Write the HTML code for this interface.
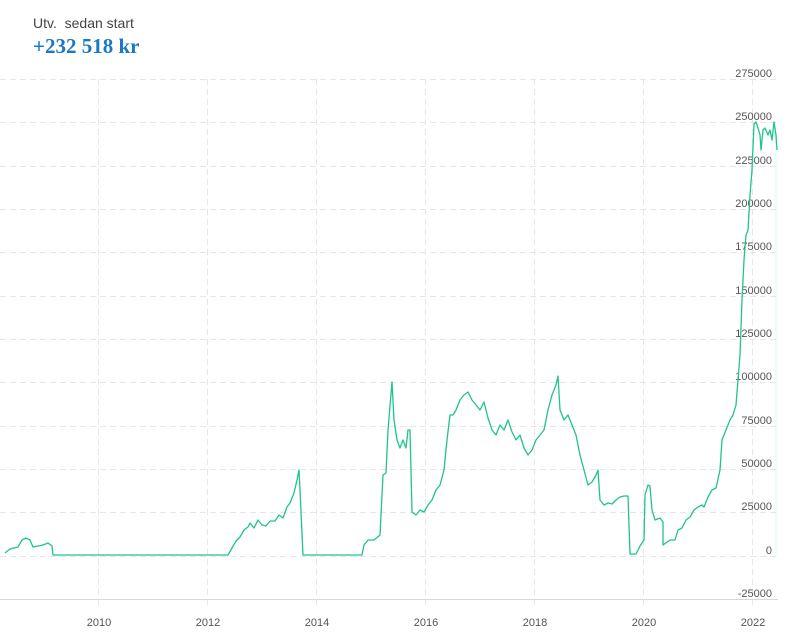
<!DOCTYPE html>
<html><head><meta charset="utf-8"><style>
body{margin:0;background:#fff;width:787px;height:637px;overflow:hidden;font-family:"Liberation Sans",sans-serif}
.t1{position:absolute;left:33px;top:15px;font-size:14px;color:#444}
.t2{position:absolute;left:33px;top:34px;font-size:21px;font-weight:bold;color:#1a78c9;font-family:"Liberation Serif",serif}
svg{position:absolute;left:0;top:0}
</style></head><body>
<div class="t1">Utv.&nbsp; sedan start</div>
<div class="t2">+232 518 kr</div>
<svg width="787" height="637" font-family="Liberation Sans, sans-serif" font-size="11" fill="#555">
<defs><linearGradient id="g" x1="0" x2="1" y1="0" y2="0">
<stop offset="0" stop-color="#2ecc91" stop-opacity="0"/><stop offset="0.93" stop-color="#2ecc91" stop-opacity="0"/><stop offset="0.95" stop-color="#2ecc91" stop-opacity="0.08"/><stop offset="1" stop-color="#2ecc91" stop-opacity="0.08"/></linearGradient></defs>
<g stroke="#e6e6e6" stroke-dasharray="6,4" stroke-width="1">
<line x1="0" x2="778" y1="79.5" y2="79.5"/><line x1="0" x2="778" y1="122.5" y2="122.5"/><line x1="0" x2="778" y1="166.5" y2="166.5"/><line x1="0" x2="778" y1="209.5" y2="209.5"/><line x1="0" x2="778" y1="252.5" y2="252.5"/><line x1="0" x2="778" y1="296.5" y2="296.5"/><line x1="0" x2="778" y1="339.5" y2="339.5"/><line x1="0" x2="778" y1="382.5" y2="382.5"/><line x1="0" x2="778" y1="426.5" y2="426.5"/><line x1="0" x2="778" y1="469.5" y2="469.5"/><line x1="0" x2="778" y1="512.5" y2="512.5"/><line x1="0" x2="778" y1="556.5" y2="556.5"/>
<line x1="98.5" x2="98.5" y1="79" y2="608"/><line x1="207.5" x2="207.5" y1="79" y2="608"/><line x1="316.5" x2="316.5" y1="79" y2="608"/><line x1="425.5" x2="425.5" y1="79" y2="608"/><line x1="534.5" x2="534.5" y1="79" y2="608"/><line x1="643.5" x2="643.5" y1="79" y2="608"/><line x1="752.5" x2="752.5" y1="79" y2="608"/>
</g>
<line x1="0" x2="778" y1="599.5" y2="599.5" stroke="#d8d8d8"/>
<g text-anchor="end">
<text x="772" y="77">275000</text><text x="772" y="120">250000</text><text x="772" y="164">225000</text><text x="772" y="207">200000</text><text x="772" y="250">175000</text><text x="772" y="294">150000</text><text x="772" y="337">125000</text><text x="772" y="380">100000</text><text x="772" y="424">75000</text><text x="772" y="467">50000</text><text x="772" y="510">25000</text><text x="772" y="554">0</text><text x="772" y="597">-25000</text>
</g>
<g text-anchor="middle">
<text x="99" y="626">2010</text><text x="208" y="626">2012</text><text x="317" y="626">2014</text><text x="426" y="626">2016</text><text x="535" y="626">2018</text><text x="644" y="626">2020</text><text x="753" y="626">2022</text>
</g>
<polygon fill="url(#g)" points="740,355 742,300 744,260 746,235 748,230 750,195 752,170 754,124 756,122 758,128 760,135 761,150 763,130 765,128 768,135 770,130 772,140 774,122 776,135 777,150 777,556 740,556"/>
<polyline fill="none" stroke="#1fc48a" stroke-width="1.3" stroke-linejoin="round" points="5,553 10,549 18,547 22,540 26,538 30,540 33,547 38,546 43,545 48,543 52,546 53,555 228,555 232,548 236,541 240,537 244,530 248,527 250,523 254,528 258,520 262,525 266,526 270,521 275,521 279,515 283,518 287,507 290,503 294,493 297,480 299,470 300,490 303,555 343,555 350,555 362,555 364,545 368,540 374,540 380,535 383,475 386,473 388,430 392,382 394,420 397,440 400,448 403,440 406,448 408,430 410,430 412,512 416,515 420,510 424,512 428,505 432,500 436,490 440,485 444,470 447,440 450,415 453,415 456,410 460,400 464,395 468,392 472,400 476,405 480,410 484,402 488,418 492,430 496,435 500,425 504,430 508,420 512,432 516,440 520,435 524,448 528,455 532,450 536,440 540,435 544,430 548,410 552,395 556,385 558,376 560,410 564,420 568,415 572,425 576,435 580,455 584,470 588,485 592,482 596,475 598,470 600,500 604,505 608,503 612,504 616,500 620,497 624,496 628,496 630,554 636,554 640,546 644,540 645,495 648,485 650,486 652,510 655,520 660,518 663,522 663,545 670,540 675,540 678,530 682,528 686,520 690,517 694,510 698,507 702,505 704,507 708,497 712,490 716,488 720,470 722,440 726,430 730,420 733,415 736,405 738,380 740,355 742,300 744,260 746,235 748,230 750,195 752,170 754,124 756,122 758,128 760,135 761,150 763,130 765,128 768,135 770,130 772,140 774,122 776,135 777,150"/>
</svg>
</body></html>
